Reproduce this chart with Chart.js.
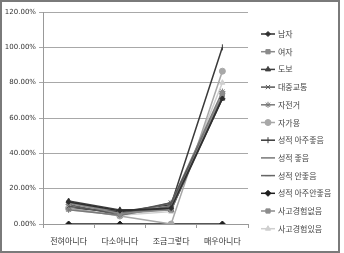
<!DOCTYPE html>
<html>
<head>
<meta charset="utf-8">
<script src="https://cdn.jsdelivr.net/npm/chart.js@4"></script>
<style>
  html, body { margin: 0; padding: 0; background: #fff; }
  #c { display: block; }
</style>
</head>
<body>
<canvas id="c" width="344" height="253"></canvas>
<script>
// ------ Data (percent) ------
const categories = ['전혀아니다', '다소아니다', '조금그렇다', '매우아니다'];
const yTicks     = [0, 20, 40, 60, 80, 100, 120];

const male        = [12.5, 7.5, 9, 71];
const female      = [12, 6, 8, 74];
const walk        = [13, 8, 8, 71];
const transit     = [10, 6, 12, 72];
const bicycle     = [8, 5, 12, 75];
const car         = [9, 4.5, 0, 86.5];
const gradeBest   = [9, 7, 11, 100];
const gradeGood   = [12, 6, 10, 72];
const gradeBad    = [11, 5, 10, 74];
const gradeWorst  = [0, 0, 0, 0];
const noAccident  = [12, 7, 8, 73];
const hadAccident = [8, 5, 7, 80];

// ------ Series styling ------
const series = [
  { label: '남자',           data: male,        color: '#2e2e2e', point: 'rectRot',  r: 2.5 },
  { label: '여자',           data: female,      color: '#8a8a8a', point: 'rect',     r: 3 },
  { label: '도보',           data: walk,        color: '#404040', point: 'triangle', r: 3 },
  { label: '대중교통',       data: transit,     color: '#555555', point: 'crossRot', r: 3 },
  { label: '자전거',         data: bicycle,     color: '#7a7a7a', point: 'star',     r: 3 },
  { label: '자가용',         data: car,         color: '#a8a8a8', point: 'circle',   r: 3 },
  { label: '성적 아주좋음',  data: gradeBest,   color: '#3a3a3a', point: 'line',     r: 3, rot: 90 },
  { label: '성적 좋음',      data: gradeGood,   color: '#777777', point: false,      r: 0 },
  { label: '성적 안좋음',    data: gradeBad,    color: '#666666', point: 'line',     r: 3 },
  { label: '성적 아주안좋음', data: gradeWorst, color: '#1e1e1e', point: 'rectRot',  r: 3 },
  { label: '사고경험없음',   data: noAccident,  color: '#8c8c8c', point: 'rect',     r: 3 },
  { label: '사고경험있음',   data: hadAccident, color: '#cfcfcf', point: 'triangle', r: 3 }
];

// ------ Legend + frame plugin ------
const sideLegend = {
  id: 'sideLegend',
  afterDraw(chart) {
    const ctx = chart.ctx;
    ctx.save();
    // outer frame
    ctx.strokeStyle = '#7a7a7a';
    ctx.lineWidth = 2;
    ctx.strokeRect(1, 1, 338, 251);

    ctx.font = '8px "Noto Sans CJK KR"';
    ctx.textBaseline = 'middle';
    chart.data.datasets.forEach((ds, i) => {
      const y = 34 + i * 17.7;
      ctx.strokeStyle = ds.borderColor;
      ctx.lineWidth = 1.5;
      ctx.beginPath(); ctx.moveTo(261, y); ctx.lineTo(275, y); ctx.stroke();
      if (ds.pointStyle) {
        ctx.fillStyle = ds.borderColor;
        ctx.lineWidth = 1;
        Chart.helpers.drawPoint(ctx, { pointStyle: ds.pointStyle, radius: ds.pointRadius, rotation: ds.pointRotation || 0, borderWidth: 1 }, 268, y);
      }
      ctx.fillStyle = '#444';
      ctx.fillText(ds.label, 278, y);
    });
    ctx.restore();
  }
};

new Chart(document.getElementById('c'), {
  type: 'line',
  data: {
    labels: categories,
    datasets: series.map(s => ({
      label: s.label,
      data: s.data,
      borderColor: s.color,
      backgroundColor: s.color,
      borderWidth: 1.5,
      pointStyle: s.point,
      pointRadius: s.r,
      pointRotation: s.rot || 0,
      pointBorderWidth: 1,
      tension: 0
    }))
  },
  options: {
    responsive: false,
    animation: false,
    layout: { padding: { left: 0, right: 96, top: 12, bottom: 0 } },
    plugins: { legend: { display: false }, tooltip: { enabled: false } },
    scales: {
      x: {
        offset: true,
        grid: { offset: true, drawOnChartArea: false, color: '#999', tickLength: 4 },
        border: { color: '#999' },
        ticks: { color: '#333', padding: 8, font: { family: '"Noto Sans CJK KR"', size: 8 } },
        afterFit: s => { s.height = 29; }
      },
      y: {
        min: 0, max: 120,
        afterBuildTicks: s => { s.ticks = yTicks.map(v => ({ value: v })); },
        grid: { color: '#a8a8a8', tickLength: 4 },
        border: { color: '#999' },
        ticks: { color: '#333', padding: 3, font: { family: '"DejaVu Sans"', size: 7 }, callback: v => v.toFixed(2) + '%' },
        afterFit: s => { s.width = 43; }
      }
    }
  },
  plugins: [sideLegend]
});
</script>
</body>
</html>
